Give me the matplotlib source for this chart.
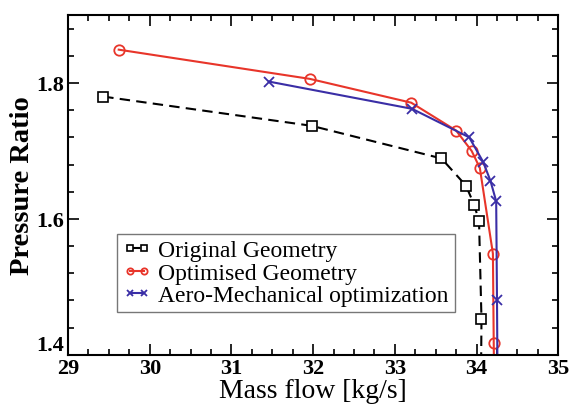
import numpy as np
import matplotlib
matplotlib.use('Agg')
import matplotlib.pyplot as plt
from matplotlib.ticker import MultipleLocator

plt.rcParams['font.family'] = ['Liberation Serif', 'DejaVu Serif']

# 読み取ったデータ（最後の点は下端より下で切れている）
orig_x = [29.43, 31.98, 33.57, 33.87, 33.97, 34.03, 34.06, 34.05]
orig_y = [1.780, 1.737, 1.689, 1.649, 1.621, 1.597, 1.453, 1.30]

opt_x = [29.62, 31.96, 33.20, 33.75, 33.94, 34.04, 34.20, 34.21, 34.22]
opt_y = [1.849, 1.806, 1.771, 1.730, 1.700, 1.675, 1.549, 1.418, 1.30]

aero_x = [31.46, 33.21, 33.91, 34.08, 34.17, 34.24, 34.25, 34.26]
aero_y = [1.802, 1.762, 1.720, 1.684, 1.656, 1.626, 1.481, 1.30]

labels = ['Original Geometry', 'Optimised Geometry', 'Aero-Mechanical optimization']

fig = plt.figure(figsize=(5.72, 4.10), dpi=100)
ax = fig.add_axes([0.119, 0.132, 0.857, 0.829])

ax.plot(orig_x, orig_y, color='black', ls=(0, (5, 3)), lw=1.5, marker='s',
        ms=7, mfc='white', mec='black', mew=1.2, label=labels[0])
ax.plot(opt_x, opt_y, color='#e8352a', lw=1.5, marker='o',
        ms=7.5, mfc='none', mec='#e8352a', mew=1.3, label=labels[1])
ax.plot(aero_x, aero_y, color='#3a2ea6', lw=1.5, marker='x',
        ms=7, mec='#3a2ea6', mew=1.3, label=labels[2])

ax.set_xlim(29, 35)
ax.set_ylim(1.4, 1.9)
ax.xaxis.set_major_locator(MultipleLocator(1))
ax.xaxis.set_minor_locator(MultipleLocator(0.25))
ax.yaxis.set_major_locator(MultipleLocator(0.2))
ax.yaxis.set_minor_locator(MultipleLocator(0.04))
ax.tick_params(which='both', direction='in', top=True, right=True, width=1.2)
ax.tick_params(which='major', length=8, labelsize=16)
ax.tick_params(axis='x', which='major', pad=2)
ax.tick_params(axis='y', which='major', pad=3)
ax.tick_params(which='minor', length=4)
for lab in ax.get_xticklabels() + ax.get_yticklabels():
    lab.set_fontweight('bold')
for s in ax.spines.values():
    s.set_linewidth(1.5)

# 1.4 のラベルを上寄せにして 29 と重ならないようにする
fig.canvas.draw()
for t in ax.yaxis.get_major_ticks():
    if abs(t.get_loc() - 1.4) < 1e-6:
        t.label1.set_verticalalignment('bottom')

ax.set_xlabel('Mass flow [kg/s]', fontsize=20, labelpad=0)
ax.set_ylabel('Pressure Ratio', fontsize=20.5, fontweight='bold', labelpad=0.5)

leg = ax.legend(loc='lower left', bbox_to_anchor=(0.1, 0.125), fontsize=17,
                numpoints=2, handlelength=1.2, handletextpad=0.3,
                markerscale=0.6, fancybox=False, edgecolor='#555555',
                borderpad=0.25, labelspacing=0.05, borderaxespad=0)
leg.get_frame().set_linewidth(1.0)

fig.savefig('out.png', dpi=100)
